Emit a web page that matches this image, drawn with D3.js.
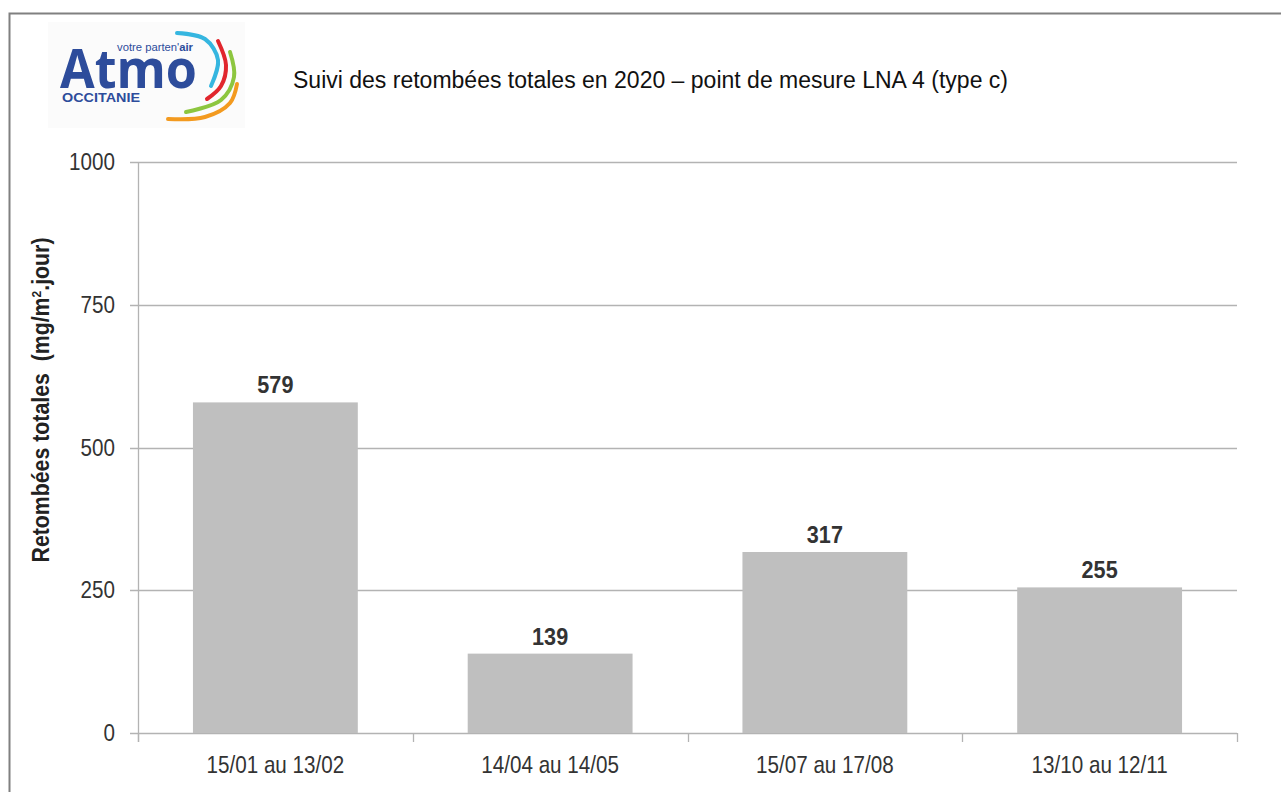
<!DOCTYPE html>
<html>
<head>
<meta charset="utf-8">
<script src="https://cdn.jsdelivr.net/npm/d3@7"></script>
<style>
  body { margin: 0; background: #fff; }
  svg { display: block; font-family: "Liberation Sans", Arial, sans-serif; }
</style>
</head>
<body>
<div class="chart"></div>
<script>
let w = 1281;
let h = 792;

const categories = ["15/01 au 13/02", "14/04 au 14/05", "15/07 au 17/08", "13/10 au 12/11"];
const values = [579, 139, 317, 255];
const yTicks = [0, 250, 500, 750, 1000];

const title = "Suivi des retombées totales en 2020 – point de mesure LNA 4 (type c)";

let plotLeft = 138, plotRight = 1237, plotTop = 162, plotBottom = 733;
let squeeze = 0.86; // the original text is narrow and tall

const svg = d3.select(".chart")
              .append("svg")
              .attr("width", w)
              .attr("height", h)

// frame
svg.append("path")
   .attr("d", "M9.5," + h + " V13.5 H" + w)
   .attr("fill", "none")
   .attr("stroke", "#808080")
   .attr("stroke-width", 2)

// logo
const logo = svg.append("g")
logo.append("rect")
    .attr("x", 48).attr("y", 22).attr("width", 197).attr("height", 106)
    .attr("fill", "#fbfbfb")
logo.append("text")
    .attr("x", 60).attr("y", 88)
    .style("font-family", "'Open Sans', 'DejaVu Sans', sans-serif")
    .style("font-size", "54px")
    .style("font-weight", "bold")
    .style("fill", "#2d4c9b")
    .attr("textLength", 137)
    .attr("lengthAdjust", "spacingAndGlyphs")
    .text("Atmo")
logo.append("text")
    .attr("x", 117).attr("y", 51)
    .attr("textLength", 76)
    .attr("lengthAdjust", "spacingAndGlyphs")
    .style("font-size", "11px")
    .style("fill", "#2d4c9b")
    .html("votre parten'<tspan font-weight='bold'>air</tspan>")
logo.append("text")
    .attr("x", 62).attr("y", 102)
    .attr("textLength", 78)
    .attr("lengthAdjust", "spacingAndGlyphs")
    .style("font-size", "13px")
    .style("font-weight", "bold")
    .style("fill", "#2d4c9b")
    .text("OCCITANIE")
const swooshes = [
  {c: "#35b6e0", p: [[177, 33], [205, 39], [218, 60], [211, 86]]},
  {c: "#e1262d", p: [[218, 41], [226, 65], [221, 86], [207, 99]]},
  {c: "#8dc63f", p: [[230, 52], [234, 77], [221, 100], [186, 112]]},
  {c: "#f39a1f", p: [[237, 84], [230, 103], [205, 117], [168, 119]]}
];
const swooshLine = d3.line().curve(d3.curveCatmullRom);
logo.selectAll(".swoosh")
    .data(swooshes)
    .enter()
    .append("path")
    .attr("class", "swoosh")
    .attr("d", (d) => swooshLine(d.p))
    .attr("fill", "none")
    .attr("stroke", (d) => d.c)
    .attr("stroke-width", 4)
    .attr("stroke-linecap", "round")

// title
svg.append("text")
   .attr("x", 293).attr("y", 88)
   .attr("textLength", 715)
   .attr("lengthAdjust", "spacingAndGlyphs")
   .style("font-size", "23px")
   .style("fill", "#111")
   .text(title)

const xScale = d3.scaleBand()
                 .domain(categories)
                 .range([plotLeft, plotRight])
                 .paddingInner(0.4)
                 .paddingOuter(0.2)

const yScale = d3.scaleLinear()
                 .domain([0, 1000])
                 .range([plotBottom, plotTop])

// gridlines
svg.selectAll(".grid")
   .data(yTicks)
   .enter()
   .append("line")
   .attr("x1", plotLeft - 8)
   .attr("x2", plotRight)
   .attr("y1", (d) => Math.round(yScale(d)) + 0.5)
   .attr("y2", (d) => Math.round(yScale(d)) + 0.5)
   .attr("stroke", "#b3b3b3")
   .attr("stroke-width", 1.3)

// y axis line
svg.append("line")
   .attr("x1", plotLeft + 0.5).attr("x2", plotLeft + 0.5)
   .attr("y1", plotTop).attr("y2", plotBottom + 9)
   .attr("stroke", "#b3b3b3")
   .attr("stroke-width", 1.3)

// x category boundary ticks
const bounds = d3.range(categories.length + 1).map((i) => plotLeft + i * (plotRight - plotLeft) / categories.length);
svg.selectAll(".xtick")
   .data(bounds)
   .enter()
   .append("line")
   .attr("x1", (d) => Math.round(d) + 0.5)
   .attr("x2", (d) => Math.round(d) + 0.5)
   .attr("y1", plotBottom)
   .attr("y2", plotBottom + 9)
   .attr("stroke", "#b3b3b3")
   .attr("stroke-width", 1.3)

// y tick labels
svg.selectAll(".ylabel")
   .data(yTicks)
   .enter()
   .append("text")
   .attr("transform", (d) => "translate(115," + (yScale(d) + 8) + ") scale(" + squeeze + ",1)")
   .attr("text-anchor", "end")
   .style("font-size", "24px")
   .style("fill", "#333")
   .text((d) => d)

// bars
svg.selectAll(".bar")
   .data(values)
   .enter()
   .append("rect")
   .attr("class", "bar")
   .attr("x", (d, i) => xScale(categories[i]))
   .attr("y", (d) => yScale(d))
   .attr("width", xScale.bandwidth())
   .attr("height", (d) => yScale(0) - yScale(d))
   .style("fill", "#bfbfbf")

// value labels
svg.selectAll(".val")
   .data(values)
   .enter()
   .append("text")
   .attr("transform", (d, i) => "translate(" + (xScale(categories[i]) + xScale.bandwidth() / 2) + "," + (yScale(d) - 9) + ") scale(0.9,1)")
   .attr("text-anchor", "middle")
   .style("font-size", "24px")
   .style("font-weight", "bold")
   .style("fill", "#333")
   .text((d) => d)

// category labels
svg.selectAll(".cat")
   .data(categories)
   .enter()
   .append("text")
   .attr("transform", (d) => "translate(" + (xScale(d) + xScale.bandwidth() / 2) + ",773) scale(" + squeeze + ",1)")
   .attr("text-anchor", "middle")
   .style("font-size", "24px")
   .style("fill", "#333")
   .text((d) => d)

// y axis title
svg.append("text")
   .attr("transform", "translate(49,400) rotate(-90)")
   .attr("text-anchor", "middle")
   .attr("textLength", 325)
   .attr("lengthAdjust", "spacingAndGlyphs")
   .style("font-size", "23px")
   .style("font-weight", "bold")
   .style("white-space", "pre")
   .style("fill", "#222")
   .html("Retombées totales  (mg/m<tspan font-size='13px' dy='-8'>2</tspan><tspan dy='8'>.jour)</tspan>")
</script>
</body>
</html>
